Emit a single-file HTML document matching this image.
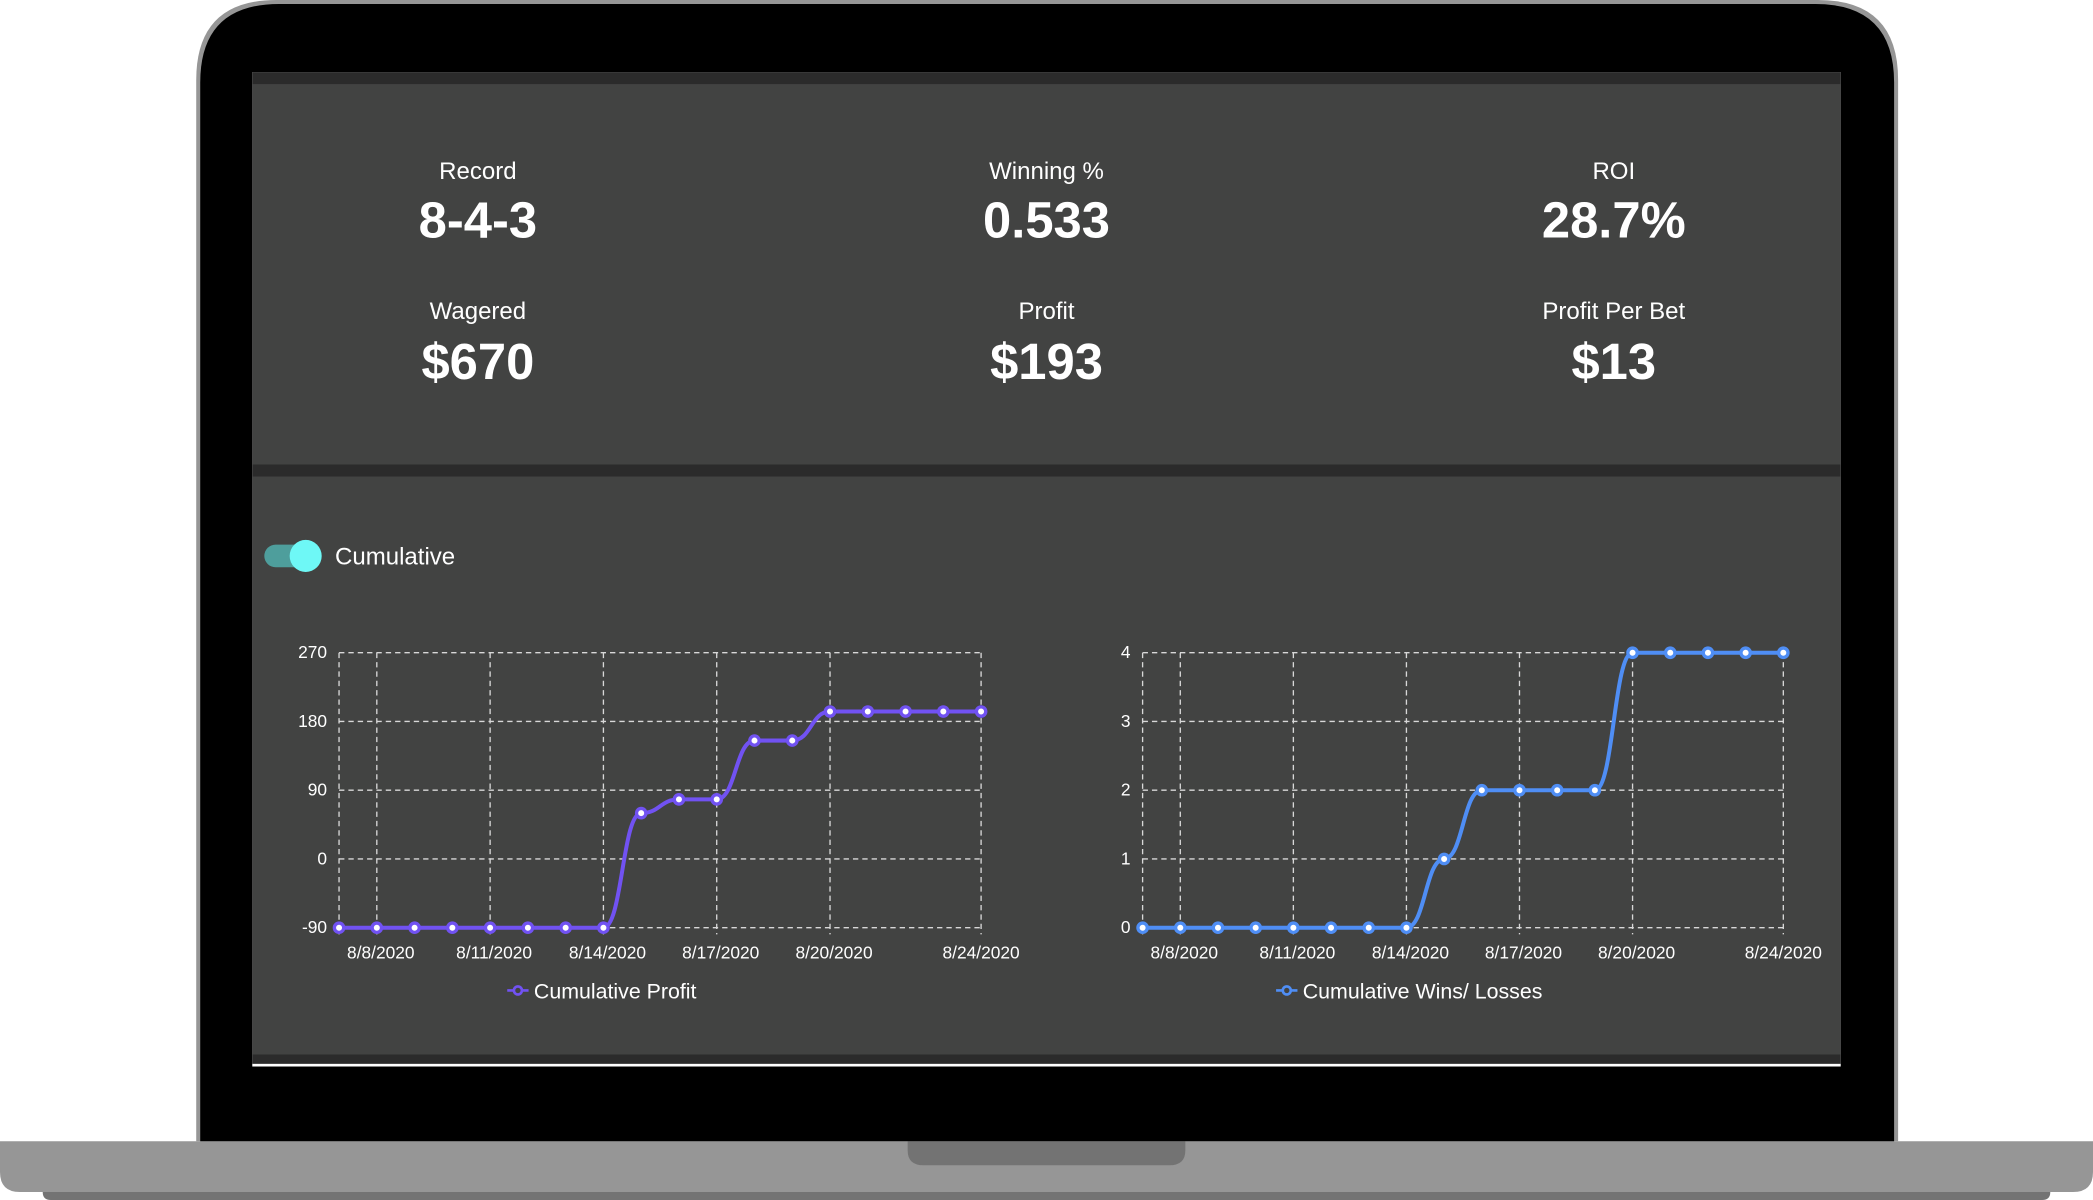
<!DOCTYPE html>
<html><head><meta charset="utf-8"><style>
html,body{margin:0;padding:0;background:#fff;width:2093px;height:1200px;overflow:hidden}
svg{display:block}
text{font-family:"Liberation Sans","DejaVu Sans",sans-serif;fill:#fff}
</style></head><body>
<svg id="s" width="2093" height="1200" viewBox="0 0 1568 899" xmlns="http://www.w3.org/2000/svg">
<!-- base -->
<path d="M32 890 H1536 V893 Q1536 899 1530 899 H38 Q32 899 32 893 Z" fill="#737373"/>
<path d="M0 855 H1568 V878 Q1568 893 1553 893 H15 Q0 893 0 878 Z" fill="#969696"/>
<path d="M680 855 H888 V862 Q888 873 876 873 H692 Q680 873 680 862 Z" fill="#737373"/>
<!-- frame -->
<path d="M147 855 V60 Q147 0 207 0 H1362 Q1422 0 1422 60 V855 Z" fill="#969696"/>
<path d="M150 855 V62 Q150 3 209 3 H1360 Q1419 3 1419 62 V855 Z" fill="#000"/>
<!-- screen -->
<rect x="189" y="54" width="1190" height="745" fill="#fff"/>
<rect x="189" y="54" width="1190" height="743" fill="#2b2b2b"/>
<rect x="189" y="63" width="1190" height="285" fill="#424342"/>
<rect x="189" y="357" width="1190" height="433" fill="#424342"/>
<!-- stats -->
<g text-anchor="middle">
<text x="358" y="134" font-size="18">Record</text>
<text x="358" y="178" font-size="38" font-weight="bold">8-4-3</text>
<text x="784" y="134" font-size="18">Winning %</text>
<text x="784" y="178" font-size="38" font-weight="bold">0.533</text>
<text x="1209" y="134" font-size="18">ROI</text>
<text x="1209" y="178" font-size="38" font-weight="bold">28.7%</text>
<text x="358" y="239" font-size="18">Wagered</text>
<text x="358" y="284" font-size="38" font-weight="bold">$670</text>
<text x="784" y="239" font-size="18">Profit</text>
<text x="784" y="284" font-size="38" font-weight="bold">$193</text>
<text x="1209" y="239" font-size="18">Profit Per Bet</text>
<text x="1209" y="284" font-size="38" font-weight="bold">$13</text>
</g>
<!-- toggle -->
<rect x="198" y="408" width="40" height="17" rx="8.5" fill="#4e9e9c"/>
<circle cx="229" cy="416.5" r="12" fill="#6ef8f6"/>
<text x="251" y="423" font-size="18">Cumulative</text>
<g id="c1"></g><g id="c2"></g>
</svg>
<script>
var NS="http://www.w3.org/2000/svg";
function el(p,t,a,txt){var e=document.createElementNS(NS,t);for(var k in a)e.setAttribute(k,a[k]);if(txt!=null)e.textContent=txt;p.appendChild(e);return e;}
function chart(g,x0,x1,ticks,vmin,vmax,vals,color,legend,lx){
  var y0=489,y1=695;
  var step=(x1-x0)/17;
  function Y(v){return y1-(v-vmin)/(vmax-vmin)*(y1-y0);}
  var gs={stroke:"#d8d8d8","stroke-width":1,"stroke-dasharray":"4,3",fill:"none"};
  for(var i=0;i<ticks.length;i++){
    var yy=y0+i*(y1-y0)/4;
    el(g,"line",Object.assign({x1:x0,x2:x1,y1:yy,y2:yy},gs));
    el(g,"text",{x:x0-9,y:yy+4,"font-size":13,"text-anchor":"end"},ticks[i]);
  }
  var gx=[0,1,4,7,10,13,17],dl=["","8/8/2020","8/11/2020","8/14/2020","8/17/2020","8/20/2020","8/24/2020"];
  for(var j=0;j<gx.length;j++){
    var xx=x0+gx[j]*step;
    el(g,"line",Object.assign({x1:xx,x2:xx,y1:y0,y2:y1+5},gs));
    if(dl[j])el(g,"text",{x:xx+(j==6?0:3),y:718,"font-size":13,"text-anchor":"middle"},dl[j]);
  }
  var d="";
  for(var k=0;k<vals.length;k++){
    var px=x0+k*step,py=Y(vals[k]);
    if(k==0)d="M"+px+" "+py;else{var qx=x0+(k-1)*step,qy=Y(vals[k-1]);d+=" C"+(qx+step/2)+" "+qy+" "+(px-step/2)+" "+py+" "+px+" "+py;}
  }
  el(g,"path",{d:d,stroke:color,"stroke-width":3,fill:"none"});
  for(var k=0;k<vals.length;k++){
    el(g,"circle",{cx:x0+k*step,cy:Y(vals[k]),r:3.5,fill:"#fff",stroke:color,"stroke-width":2.5});
  }
  el(g,"line",{x1:lx-8,x2:lx+8,y1:742,y2:742,stroke:color,"stroke-width":2});
  el(g,"circle",{cx:lx,cy:742,r:3,fill:"#424342",stroke:color,"stroke-width":2});
  el(g,"text",{x:lx+12,y:748,"font-size":16},legend);
}
chart(document.getElementById("c1"),254,735,["270","180","90","0","-90"],-90,270,
 [-90,-90,-90,-90,-90,-90,-90,-90,60,78,78,155,155,193,193,193,193,193],"#7152f2","Cumulative Profit",388);
chart(document.getElementById("c2"),856,1336,["4","3","2","1","0"],0,4,
 [0,0,0,0,0,0,0,0,1,2,2,2,2,4,4,4,4,4],"#4f8ef5","Cumulative Wins/ Losses",964);
</script>
</body></html>
